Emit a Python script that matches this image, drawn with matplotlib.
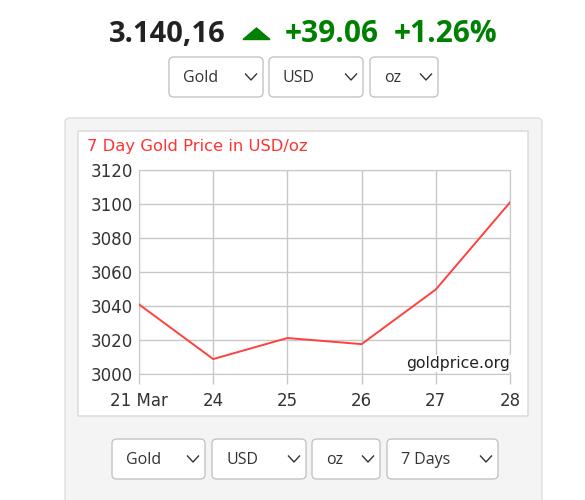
import matplotlib
matplotlib.use("Agg")
import matplotlib.pyplot as plt
from matplotlib.patches import FancyBboxPatch, Polygon
from matplotlib.lines import Line2D

days = ["21 Mar", "24", "25", "26", "27", "28"]
prices = [3041.0, 3008.8, 3021.2, 3017.6, 3049.8, 3101.1]
y_ticks = [3000, 3020, 3040, 3060, 3080, 3100, 3120]

spot_price = "3.140,16"
change_abs = "+39.06"
change_pct = "+1.26%"
top_menus = ["Gold", "USD", "oz"]
bottom_menus = ["Gold", "USD", "oz", "7 Days"]

W, H = 585, 500
fig = plt.figure(figsize=(W / 100, H / 100), dpi=100)
fig.patch.set_facecolor("white")


def fx(x):
    return x / W


def fy(y):
    return 1 - y / H


def box(x0, y0, x1, y1, fc, ec, r=4, z=0):
    p = FancyBboxPatch((fx(x0), fy(y1)), fx(x1 - x0), (y1 - y0) / H,
                       boxstyle=f"round,pad=0,rounding_size={r / W}",
                       transform=fig.transFigure, facecolor=fc, edgecolor=ec,
                       linewidth=1, zorder=z)
    fig.patches.append(p)


def dropdown(x0, x1, y0, y1, label):
    box(x0, y0, x1, y1, "white", "#c4c4c4", r=5, z=2)
    yc = (y0 + y1) / 2
    fig.text(fx(x0 + 14), fy(yc + 1), label, fontsize=11.5, color="#333333",
             family="Open Sans", va="center", ha="left", zorder=3)
    cx = x1 - 12
    fig.lines.append(Line2D([fx(cx - 5.5), fx(cx), fx(cx + 5.5)],
                            [fy(yc - 3), fy(yc + 3), fy(yc - 3)],
                            transform=fig.transFigure, color="#333333",
                            linewidth=1.0, zorder=3))


# header
fig.text(fx(109), fy(34), spot_price, fontsize=21, fontweight="bold",
         family="Open Sans", color="#222222", va="center", ha="left")
fig.patches.append(Polygon([(fx(243), fy(39.5)), (fx(270), fy(39.5)),
                            (fx(256.5), fy(28))], closed=True,
                           transform=fig.transFigure, color="#008000"))
fig.text(fx(285), fy(34), change_abs, fontsize=21.5, fontweight="bold",
         family="Open Sans", color="#008000", va="center", ha="left")
fig.text(fx(394), fy(34), change_pct, fontsize=21.5, fontweight="bold",
         family="Open Sans", color="#008000", va="center", ha="left")

for (x0, x1), lab in zip([(169, 263), (269, 363), (370, 438)], top_menus):
    dropdown(x0, x1, 57, 97, lab)

# grey panel and white chart box
box(65, 118, 542, 520, "#f4f4f4", "#dedede", r=5, z=0)
box(78, 131, 528, 416, "white", "#d8d8d8", r=0, z=1)

fig.text(fx(87), fy(147), "7 Day Gold Price in USD/oz", fontsize=11.8,
         color="#ff3333", va="center", ha="left", family="DejaVu Sans", zorder=5)

# chart
ax = fig.add_axes([fx(139), fy(374), fx(510 - 139), (374 - 170.3) / H])
ax.set_zorder(4)
ax.set_facecolor("white")
x = list(range(len(days)))
ax.plot(x, prices, color="#ff4040", linewidth=1.4, zorder=3)
ax.set_xlim(0, len(days) - 1)
ax.set_ylim(y_ticks[0], y_ticks[-1])
ax.set_xticks(x)
ax.set_xticklabels(days)
ax.set_yticks(y_ticks)
ax.grid(True, color="#c8c8c8", linewidth=1)
ax.set_axisbelow(True)
for s in ax.spines.values():
    s.set_color("#c8c8c8")
ax.tick_params(axis="x", length=7.2, width=1, color="#c8c8c8", pad=6,
               labelsize=12.0, labelcolor="#333333")
ax.tick_params(axis="y", length=0, pad=4.5, labelsize=12.0,
               labelcolor="#333333")
ax.text(1.0, 0.03, "goldprice.org", transform=ax.transAxes, ha="right",
        va="baseline", fontsize=11.3, color="#222222", zorder=5,
        bbox=dict(facecolor="white", edgecolor="none", pad=0.5))

for (x0, x1), lab in zip([(112, 205), (212, 306), (312, 380), (387, 498)],
                         bottom_menus):
    dropdown(x0, x1, 439, 479, lab)

fig.savefig("out.png", dpi=100)
